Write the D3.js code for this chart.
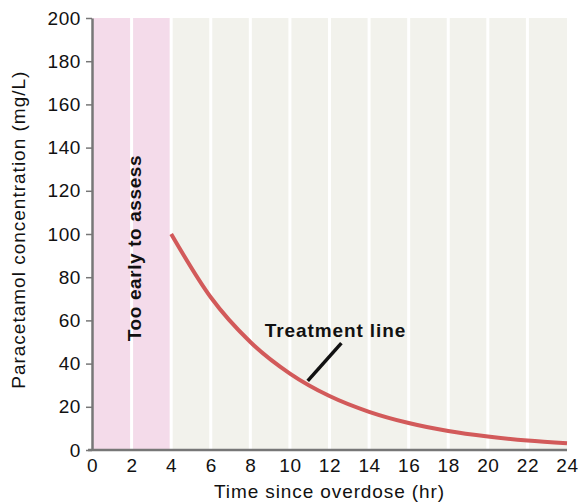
<!DOCTYPE html>
<html>
<head>
<meta charset="utf-8">
<script src="https://cdn.jsdelivr.net/npm/d3@7"></script>
<style>
  body { margin: 0; background: #fff; }
  text { font-family: "Liberation Sans", Arial, sans-serif; }
</style>
</head>
<body>
<div id="vis"></div>
<script>
// treatment line (hr, mg/L)
const hours = [4, 6, 8, 10, 12, 14, 16, 18, 20, 22, 24];
const conc = [100, 70.7, 50, 35.4, 25, 17.7, 12.5, 8.8, 6.25, 4.4, 3.1];
const xTicks = [0, 2, 4, 6, 8, 10, 12, 14, 16, 18, 20, 22, 24];
const yTicks = [0, 20, 40, 60, 80, 100, 120, 140, 160, 180, 200];
const gridHours = [2, 4, 6, 8, 10, 12, 14, 16, 18, 20, 22];
const earlyEnd = 4;

const width = 582, height = 502;
const margin = {top: 18, right: 15, bottom: 52, left: 92};
const fontSize = 19;

const svg = d3.select("#vis").append("svg")
    .attr("width", width)
    .attr("height", height);

const x = d3.scaleLinear().domain([0, 24]).range([margin.left, width - margin.right]);
const y = d3.scaleLinear().domain([0, 200]).range([height - margin.bottom, margin.top]);

// backgrounds
svg.append("rect")
    .attr("x", x(earlyEnd)).attr("y", y(200))
    .attr("width", x(24) - x(earlyEnd)).attr("height", y(0) - y(200))
    .attr("fill", "#f2f2ec");
svg.append("rect")
    .attr("x", x(0)).attr("y", y(200))
    .attr("width", x(earlyEnd) - x(0)).attr("height", y(0) - y(200))
    .attr("fill", "#f4dbea");

// vertical white grid lines
svg.append("g")
  .selectAll("line")
  .data(gridHours)
  .join("line")
    .attr("x1", d => x(d)).attr("x2", d => x(d))
    .attr("y1", y(200)).attr("y2", y(0))
    .attr("stroke", "#fff")
    .attr("stroke-width", 3);

// axes
const yAxis = svg.append("g")
    .attr("transform", `translate(${x(0)},0)`)
    .call(d3.axisLeft(y).tickValues(yTicks).tickSize(6).tickPadding(5).tickSizeOuter(0));
yAxis.select(".domain").attr("stroke", "#777").attr("stroke-width", 2.5);
yAxis.selectAll(".tick line").attr("stroke", "#777").attr("stroke-width", 1.5);
yAxis.selectAll(".tick text")
    .style("font-size", fontSize + "px").style("letter-spacing", "0.6px")
    .attr("fill", "#111")
    .attr("font-family", "Liberation Sans, Arial, sans-serif");

const xAxis = svg.append("g")
    .attr("transform", `translate(0,${y(0)})`)
    .call(d3.axisBottom(x).tickValues(xTicks).tickSize(0).tickPadding(9).tickSizeOuter(0));
xAxis.select(".domain").attr("stroke", "#777").attr("stroke-width", 2.5)
    .attr("d", `M${x(0) - 4},0H${x(24)}`);
xAxis.selectAll(".tick text")
    .style("font-size", fontSize + "px").style("letter-spacing", "0.6px")
    .attr("fill", "#111")
    .attr("font-family", "Liberation Sans, Arial, sans-serif");

// treatment line
const line = d3.line()
    .x((d, i) => x(d))
    .y((d, i) => y(conc[i]))
    .curve(d3.curveMonotoneX);
svg.append("path")
    .attr("d", line(hours))
    .attr("fill", "none")
    .attr("stroke", "#d25a5a")
    .attr("stroke-width", 4);

// labels
svg.append("text")
    .attr("transform", `translate(${x(2) + 9},${y(100) + 14}) rotate(-90)`)
    .attr("text-anchor", "middle")
    .attr("font-weight", "bold")
    .style("font-size", "19px")
    .style("letter-spacing", "0.6px")
    .attr("fill", "#111")
    .text("Too early to assess");

svg.append("text")
    .attr("x", x(12.3))
    .attr("y", y(52.5))
    .attr("text-anchor", "middle")
    .attr("font-weight", "bold")
    .style("font-size", "19px")
    .style("letter-spacing", "0.9px")
    .attr("fill", "#111")
    .text("Treatment line");

svg.append("line")
    .attr("x1", x(10.9)).attr("y1", y(32))
    .attr("x2", x(12.6)).attr("y2", y(49.5))
    .attr("stroke", "#111")
    .attr("stroke-width", 3.5);

svg.append("text")
    .attr("x", x(12))
    .attr("y", 498)
    .attr("text-anchor", "middle")
    .style("font-size", fontSize + "px")
    .style("letter-spacing", "0.9px")
    .attr("fill", "#111")
    .text("Time since overdose (hr)");

svg.append("text")
    .attr("transform", `translate(25,${y(102)}) rotate(-90)`)
    .attr("text-anchor", "middle")
    .style("font-size", fontSize + "px")
    .style("letter-spacing", "1px")
    .attr("fill", "#111")
    .text("Paracetamol concentration (mg/L)");
</script>
</body>
</html>
